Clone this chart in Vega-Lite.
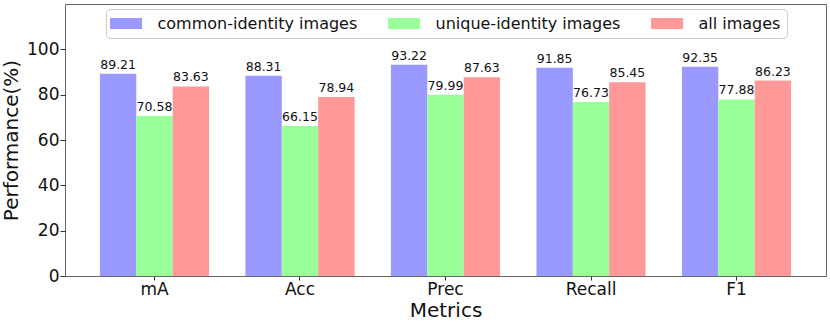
{
  "$schema": "https://vega.github.io/schema/vega-lite/v6.json",
  "width": 761,
  "height": 272,
  "autosize": {"type": "none"},
  "padding": {"left": 65, "top": 4, "right": 4, "bottom": 49},
  "background": "white",
  "config": {
    "font": "DejaVu Sans",
    "view": {"stroke": "#666", "strokeWidth": 1},
    "axis": {"grid": false, "domain": false, "tickColor": "#333", "labelColor": "#111", "titleColor": "#111", "titleFontWeight": "normal", "labelFont": "DejaVu Sans", "titleFont": "DejaVu Sans"}
  },
  "data": {
    "values": [
      {"metric": "mA", "type": "common-identity images", "value": 89.21},
      {"metric": "mA", "type": "unique-identity images", "value": 70.58},
      {"metric": "mA", "type": "all images", "value": 83.63},
      {"metric": "Acc", "type": "common-identity images", "value": 88.31},
      {"metric": "Acc", "type": "unique-identity images", "value": 66.15},
      {"metric": "Acc", "type": "all images", "value": 78.94},
      {"metric": "Prec", "type": "common-identity images", "value": 93.22},
      {"metric": "Prec", "type": "unique-identity images", "value": 79.99},
      {"metric": "Prec", "type": "all images", "value": 87.63},
      {"metric": "Recall", "type": "common-identity images", "value": 91.85},
      {"metric": "Recall", "type": "unique-identity images", "value": 76.73},
      {"metric": "Recall", "type": "all images", "value": 85.45},
      {"metric": "F1", "type": "common-identity images", "value": 92.35},
      {"metric": "F1", "type": "unique-identity images", "value": 77.88},
      {"metric": "F1", "type": "all images", "value": 86.23}
    ]
  },
  "encoding": {
    "x": {
      "field": "metric", "type": "nominal",
      "sort": ["mA", "Acc", "Prec", "Recall", "F1"],
      "scale": {"paddingInner": 0.25, "paddingOuter": 0.24},
      "axis": {"labelAngle": 0, "labelFontSize": 17, "title": "Metrics", "titleFontSize": 20, "tickSize": 4, "labelPadding": 1, "titleY": 40, "titleBaseline": "alphabetic"}
    },
    "xOffset": {
      "field": "type", "type": "nominal",
      "sort": ["common-identity images", "unique-identity images", "all images"],
      "scale": {"paddingInner": 0, "paddingOuter": 0}
    },
    "y": {
      "field": "value", "type": "quantitative",
      "scale": {"domain": [0, 120], "nice": false},
      "axis": {"values": [0, 20, 40, 60, 80, 100], "labelFontSize": 17, "title": "Performance(%)", "titleFontSize": 20, "tickSize": 5, "labelPadding": 1, "titlePadding": 5}
    }
  },
  "layer": [
    {
      "mark": {"type": "bar"},
      "encoding": {
        "color": {
          "field": "type", "type": "nominal",
          "sort": ["common-identity images", "unique-identity images", "all images"],
          "scale": {"domain": ["common-identity images", "unique-identity images", "all images"], "range": ["#9999ff", "#99ff99", "#ff9999"]},
          "legend": {
            "title": null,
            "orient": "none",
            "direction": "horizontal",
            "legendX": 41,
            "legendY": 5,
            "symbolType": "M-1.9,-1H3.92V1H-1.9Z",
            "symbolSize": 121,
            "symbolStrokeWidth": 0,
            "symbolOpacity": 1,
            "labelFontSize": 16,
            "labelFont": "DejaVu Sans",
            "labelColor": "#111",
            "labelLimit": 0,
            "labelOffset": 29,
            "columnPadding": 30,
            "padding": 6.5,
            "strokeColor": "#cccccc",
            "fillColor": "white",
            "cornerRadius": 4
          }
        }
      }
    },
    {
      "mark": {"type": "text", "baseline": "bottom", "dy": -2, "fontSize": 12.5, "font": "DejaVu Sans", "color": "#111"},
      "encoding": {
        "text": {"field": "value", "type": "quantitative", "format": ".2f"}
      }
    }
  ]
}
